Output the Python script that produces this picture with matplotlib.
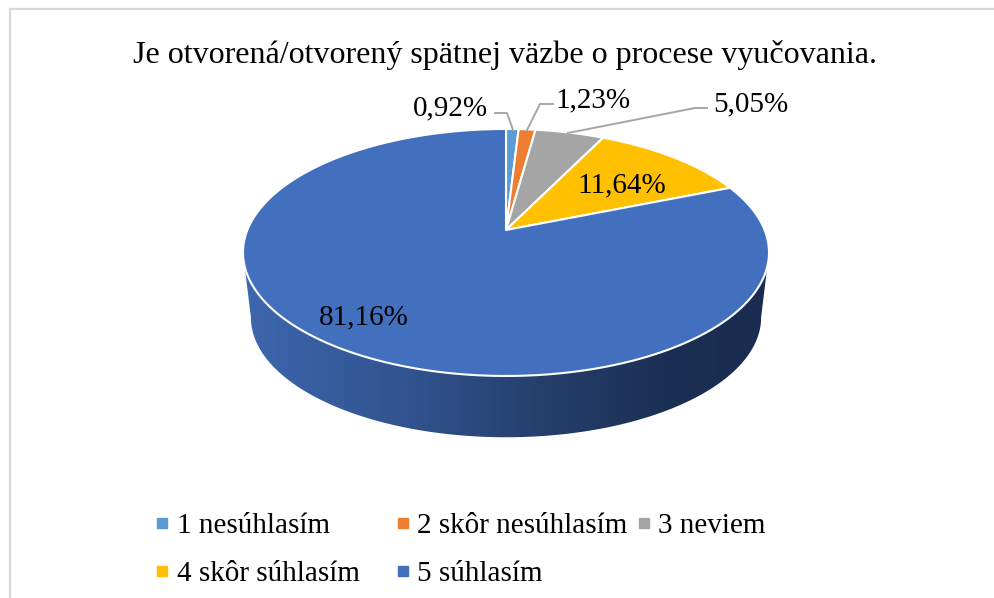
import numpy as np
import matplotlib
matplotlib.use("Agg")
import matplotlib.pyplot as plt
from matplotlib.colors import LinearSegmentedColormap
from matplotlib.lines import Line2D
from matplotlib.patches import Polygon

title = "Je otvorená/otvorený spätnej väzbe o procese vyučovania."
categories = ["1 nesúhlasím", "2 skôr nesúhlasím", "3 neviem", "4 skôr súhlasím", "5 súhlasím"]
values = [0.92, 1.23, 5.05, 11.64, 81.16]
colors = ["#5B9BD5", "#ED7D31", "#A5A5A5", "#FFC000", "#4270BE"]
value_labels = ["0,92%", "1,23%", "5,05%", "11,64%", "81,16%"]

plt.rcParams["font.family"] = ["Liberation Serif", "DejaVu Serif"]

# pie geometry in pixels, the disc is tilted so the apex is not the ellipse centre
CX, APEX_Y = 506, 230
A, B, K = 258.6, 119.4, 0.182
DEPTH, SHRINK = 65, 0.97


def project(theta, r=1.0):
    # theta is clockwise from twelve o'clock
    x = r * np.sin(theta)
    y = r * np.cos(theta)
    w = 1 + K * y
    return CX + A * x / w, APEX_Y - B * y / w


def lower_rim(theta):
    x, y = project(theta)
    mid = APEX_Y + 22.5
    return CX + (x - CX) * SHRINK, mid + DEPTH + (y - mid) * SHRINK


def make_handles(idx):
    return [Line2D([], [], ls="none", marker="s", ms=6.5, color=colors[i], label=categories[i]) for i in idx]


fig = plt.figure(figsize=(9.94, 5.98), dpi=100)
ax = fig.add_axes([0, 0, 1, 1])
ax.set_xlim(0, 994)
ax.set_ylim(598, 0)
ax.axis("off")

# chart frame, only top and left are in the crop
ax.plot([994, 9.5, 9.5], [9, 9, 598], color="#D9D9D9", lw=1.6, solid_joinstyle="miter")

# side of the pie with dark gradient
side_t = np.linspace(np.radians(100.5), np.radians(259.5), 200)
top_x, top_y = project(side_t)
low_x, low_y = lower_rim(side_t)
side_pts = np.column_stack([np.r_[top_x, low_x[::-1]], np.r_[top_y, low_y[::-1]]])
side = Polygon(side_pts, closed=True, facecolor="none", edgecolor="none")
ax.add_patch(side)
side_cmap = LinearSegmentedColormap.from_list(
    "side", [(0, "#3D67AE"), (0.3, "#325490"), (0.55, "#26406F"), (0.8, "#1B2F54"), (1, "#1A2C50")]
)
grad = ax.imshow(np.linspace(0, 1, 256)[None, :], extent=(243, 769, 460, 250), cmap=side_cmap,
                 aspect="auto", zorder=2)
grad.set_clip_path(side)
ax.set_xlim(0, 994)
ax.set_ylim(598, 0)

# top face
fracs = np.array(values) / sum(values)
edges = np.r_[0, np.cumsum(fracs)] * 2 * np.pi
for i, col in enumerate(colors):
    t = np.linspace(edges[i], edges[i + 1], 300)
    x, y = project(t)
    ax.fill(np.r_[CX, x], np.r_[APEX_Y, y], facecolor=col, edgecolor="white", lw=1.5,
            joinstyle="round", zorder=3)

# data labels
lab_pos = [(450, 108), (593, 100), (751, 104), (622, 185), (364, 317)]
for txt, (lx, ly) in zip(value_labels, lab_pos):
    ax.text(lx, ly, txt, fontsize=21, ha="center", va="center", color="black", zorder=5)

# leader lines
leaders = [
    ([495, 507, 513], [113, 113, 130]),
    ([553, 540, 527], [104, 104, 130]),
    ([707, 695, 568], [108, 108, 133]),
]
for lx, ly in leaders:
    ax.plot(lx, ly, color="#A6A6A6", lw=1.4, zorder=4)

ax.text(505, 55, title, fontsize=23, ha="center", va="center", color="black")

# legend is filled column by column, third column sits closer so it gets its own legend
leg_args = dict(frameon=False, fontsize=21, handletextpad=0, handlelength=1.0,
                labelspacing=0.73, borderpad=0, borderaxespad=0, labelcolor="black", loc="upper left")
leg1 = ax.legend(handles=make_handles([0, 3, 1, 4]), ncol=2, columnspacing=0.98,
                 bbox_to_anchor=(147.4 / 994, 1 - 513 / 598), **leg_args)
ax.add_artist(leg1)
ax.legend(handles=make_handles([2]), bbox_to_anchor=(629 / 994, 1 - 513 / 598), **leg_args)

fig.savefig("out.png", dpi=100)
